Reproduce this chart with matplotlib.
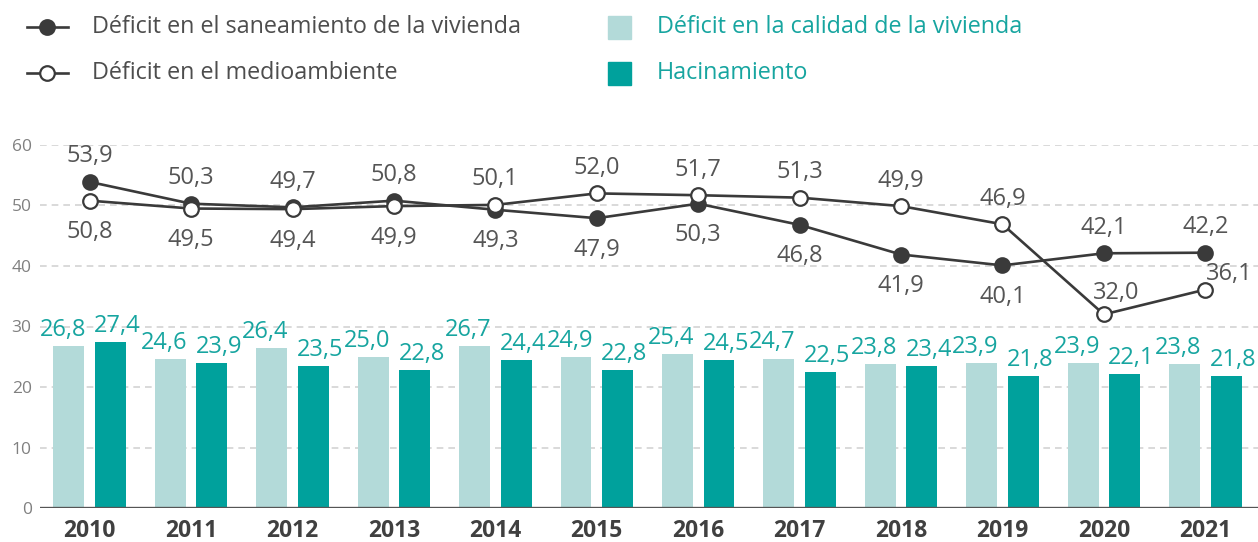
import numpy as np
import matplotlib
matplotlib.use("Agg")
import matplotlib.pyplot as plt
from matplotlib.lines import Line2D
from matplotlib.patches import Rectangle

plt.rcParams["font.family"] = ["Open Sans", "DejaVu Sans"]

years = ["2010", "2011", "2012", "2013", "2014", "2015", "2016", "2017", "2018", "2019", "2020", "2021"]
calidad = [26.8, 24.6, 26.4, 25.0, 26.7, 24.9, 25.4, 24.7, 23.8, 23.9, 23.9, 23.8]
hacinamiento = [27.4, 23.9, 23.5, 22.8, 24.4, 22.8, 24.5, 22.5, 23.4, 21.8, 22.1, 21.8]
saneamiento = [53.9, 50.3, 49.7, 50.8, 49.3, 47.9, 50.3, 46.8, 41.9, 40.1, 42.1, 42.2]
medioambiente = [50.8, 49.5, 49.4, 49.9, 50.1, 52.0, 51.7, 51.3, 49.9, 46.9, 32.0, 36.1]

LIGHT = "#b3dad9"
TEAL = "#00a19c"
TEAL_TXT = "#17a5a0"
DARK = "#3a3a3a"
LBL = "#555555"
VAL_FS = 17
LEG_FS = 16.8

def fmt(v):
    return f"{v:.1f}".replace(".", ",")

fig = plt.figure(figsize=(12.58, 5.42), dpi=100)
ax = fig.add_axes([40 / 1258, 34 / 542, 1 - 40 / 1258, (508 - 145) / 542])

x = np.arange(len(years))
w = 0.305
off = 0.205
ax.bar(x - off, calidad, w, color=LIGHT, zorder=2)
ax.bar(x + off, hacinamiento, w, color=TEAL, zorder=2)

for i in range(len(years)):
    ax.annotate(fmt(calidad[i]), (x[i] - off, calidad[i]), xytext=(-4.5, 3),
                textcoords="offset points", ha="center", va="bottom",
                color=TEAL_TXT, fontsize=VAL_FS, zorder=5)
    ax.annotate(fmt(hacinamiento[i]), (x[i] + off, hacinamiento[i]), xytext=(5, 3),
                textcoords="offset points", ha="center", va="bottom",
                color=TEAL_TXT, fontsize=VAL_FS, zorder=5)

ax.plot(x, saneamiento, color=DARK, lw=1.9, marker="o", ms=10.5,
        mfc=DARK, mec=DARK, mew=1.5, zorder=4)
ax.plot(x, medioambiente, color=DARK, lw=1.9, marker="o", ms=10.5,
        mfc="white", mec=DARK, mew=1.6, zorder=4)

# label placement in points: (dx, dy) relative to marker, baseline aligned
ABOVE = (0, 14)
BELOW = (0, -27)
for i in range(len(years)):
    s, m = saneamiento[i], medioambiente[i]
    if i >= 10:
        ps = ABOVE
        pm = (9, 11) if i == 10 else (17, 7)
    elif s >= m:
        ps, pm = ABOVE, BELOW
    else:
        ps, pm = BELOW, ABOVE
    ax.annotate(fmt(s), (x[i], s), xytext=ps, textcoords="offset points",
                ha="center", va="baseline", color=LBL, fontsize=VAL_FS, zorder=5)
    ax.annotate(fmt(m), (x[i], m), xytext=pm, textcoords="offset points",
                ha="center", va="baseline", color=LBL, fontsize=VAL_FS, zorder=5)

ax.set_xlim(-0.49, 11.52)
ax.set_ylim(0, 60)
ax.set_yticks([0, 10, 20, 30, 40, 50, 60])
for yv in [10, 20, 30, 40, 50, 60]:
    ax.axhline(yv, color="#d3d3d3", lw=1.2, ls=(0, (4, 3)), zorder=1)
ax.axhline(0, color="#555555", lw=2.4, zorder=3)
ax.set_xticks(x)
ax.set_xticklabels(years, fontsize=16.5, fontweight="bold", color="#404040")
ax.tick_params(axis="x", length=0, pad=8)
ax.tick_params(axis="y", length=0, pad=6, labelsize=12.5, labelcolor="#808080")
for sp in ax.spines.values():
    sp.set_visible(False)

# legend drawn by hand in figure pixels
def fx(px):
    return px / 1258

def fy(py):
    return 1 - py / 542

for py, face in [(27, DARK), (73, "white")]:
    fig.add_artist(Line2D([fx(27), fx(68)], [fy(py), fy(py)], color=DARK, lw=1.9,
                          transform=fig.transFigure))
    fig.add_artist(Line2D([fx(47)], [fy(py)], color=DARK, marker="o", ms=10.5,
                          mfc=face, mec=DARK, mew=1.6, transform=fig.transFigure))
fig.text(fx(92), fy(27), "Déficit en el saneamiento de la vivienda", fontsize=LEG_FS,
         color="#4d4d4d", va="center")
fig.text(fx(92), fy(73), "Déficit en el medioambiente", fontsize=LEG_FS,
         color="#4d4d4d", va="center")
for py, col, label in [(27, LIGHT, "Déficit en la calidad de la vivienda"),
                       (73, TEAL, "Hacinamiento")]:
    fig.add_artist(Rectangle((fx(608), fy(py + 12)), fx(23), 23 / 542, color=col,
                             transform=fig.transFigure))
    fig.text(fx(657), fy(py), label, fontsize=LEG_FS, color=TEAL_TXT, va="center")

fig.savefig("out.png", dpi=100)
